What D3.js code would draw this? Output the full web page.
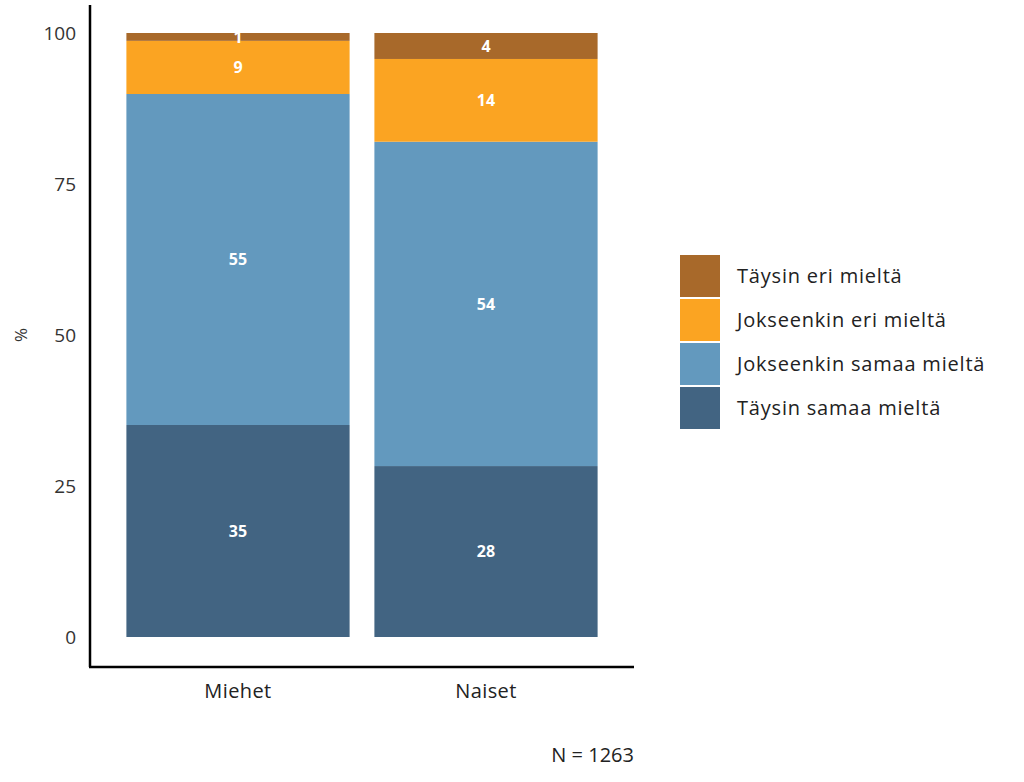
<!DOCTYPE html>
<html>
<head>
<meta charset="utf-8">
<script src="https://cdn.jsdelivr.net/npm/d3@7"></script>
<style>
  body { margin: 0; background: #fff; }
  text { font-family: "Open Sans", "Noto Sans", sans-serif; }
</style>
</head>
<body>
<svg id="chart" width="1024" height="782"></svg>
<script>
const groups = ["Miehet", "Naiset"];
const categories = ["Täysin samaa mieltä", "Jokseenkin samaa mieltä", "Jokseenkin eri mieltä", "Täysin eri mieltä"];
const miehet = [35.1, 54.8, 8.8, 1.3];
const naiset = [28.3, 53.7, 13.7, 4.3];
const colors = ["#426482", "#6399BE", "#FBA422", "#A8692A"];
const yTicks = [0, 25, 50, 75, 100];
const note = "N = 1263";

const svg = d3.select("#chart");

const x = d3.scaleBand().domain(groups).range([114, 610]).paddingInner(0.1).paddingOuter(0.05);
const y = d3.scaleLinear().domain([0, 100]).range([637, 33]);
const color = d3.scaleOrdinal().domain(categories).range(colors);

// build stacked data
const rows = groups.map((g, i) => {
  const vals = i === 0 ? miehet : naiset;
  const r = { group: g };
  categories.forEach((c, j) => r[c] = vals[j]);
  return r;
});
const series = d3.stack().keys(categories)(rows);

const bars = svg.append("g");
series.forEach(s => {
  bars.selectAll(null)
    .data(s)
    .join("rect")
    .attr("x", d => x(d.data.group))
    .attr("width", x.bandwidth())
    .attr("y", d => y(d[1]))
    .attr("height", d => y(d[0]) - y(d[1]))
    .attr("fill", color(s.key));
});

series.forEach(s => {
  bars.selectAll(null)
    .data(s)
    .join("text")
    .attr("x", d => x(d.data.group) + x.bandwidth() / 2)
    .attr("y", d => (y(d[0]) + y(d[1])) / 2)
    .attr("dy", "0.36em")
    .attr("text-anchor", "middle")
    .attr("fill", "#fff")
    .attr("font-weight", "bold")
    .attr("font-size", 16)
    .text(d => Math.round(d[1] - d[0]));
});

// axes
const yAxis = svg.append("g")
  .attr("transform", "translate(90,0)")
  .call(d3.axisLeft(y).tickValues(yTicks).tickSize(0).tickPadding(14));
yAxis.select(".domain").remove();
yAxis.selectAll("text").attr("font-size", 19).attr("fill", "#333");

svg.append("line").attr("x1", 90).attr("x2", 90).attr("y1", 5).attr("y2", 667)
  .attr("stroke", "#000").attr("stroke-width", 2.5);

const xAxis = svg.append("g")
  .attr("transform", "translate(0,667)")
  .call(d3.axisBottom(x).tickSize(0).tickPadding(17));
xAxis.select(".domain").remove();
xAxis.selectAll("text").attr("font-size", 20).attr("letter-spacing", 0.4).attr("fill", "#222");

svg.append("line").attr("x1", 89).attr("x2", 634).attr("y1", 667).attr("y2", 667)
  .attr("stroke", "#000").attr("stroke-width", 2.5);

svg.append("text")
  .attr("transform", "translate(27,335) rotate(-90)")
  .attr("text-anchor", "middle")
  .attr("font-size", 17)
  .attr("fill", "#333")
  .text("%");

svg.append("text")
  .attr("x", 634).attr("y", 762)
  .attr("text-anchor", "end")
  .attr("font-size", 20)
  .attr("fill", "#222")
  .text(note);

// legend (top item = top of stack)
const legendItems = categories.slice().reverse();
const legend = svg.append("g").attr("transform", "translate(680,255)");
legend.selectAll("rect")
  .data(legendItems)
  .join("rect")
  .attr("x", 0)
  .attr("y", (d, i) => i * 44)
  .attr("width", 40)
  .attr("height", 42)
  .attr("fill", d => color(d));
legend.selectAll("text")
  .data(legendItems)
  .join("text")
  .attr("x", 57)
  .attr("y", (d, i) => i * 44 + 21)
  .attr("dy", "0.35em")
  .attr("font-size", 20)
  .attr("letter-spacing", 0.8)
  .attr("fill", "#222")
  .text(d => d);
</script>
</body>
</html>
